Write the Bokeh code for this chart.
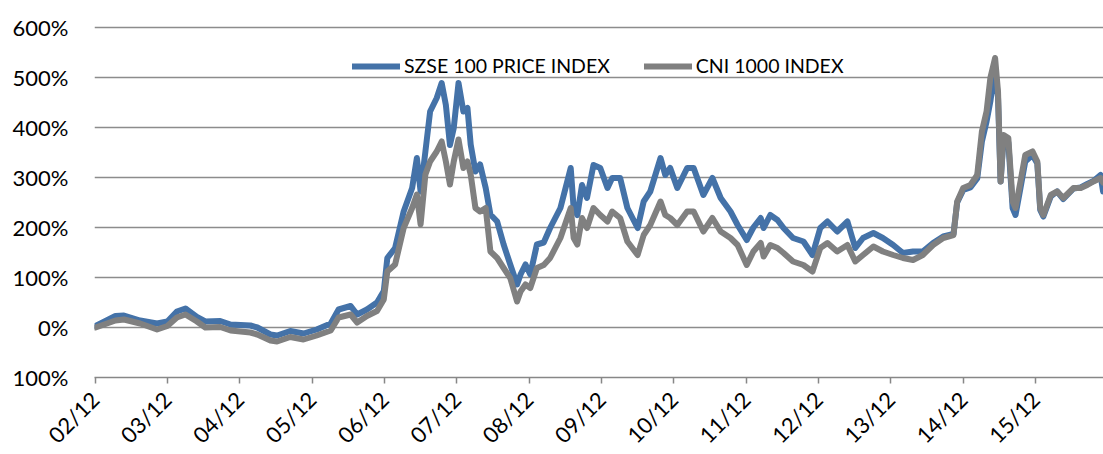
import pandas as pd
from math import pi
from bokeh.plotting import figure
from bokeh.models import Range1d, FixedTicker, Legend, LegendItem
from bokeh.embed import file_html
from bokeh.resources import INLINE

dates = [
    "2002-12-04", "2003-03-13", "2003-04-25", "2003-07-16", "2003-10-10", "2003-12-01",
    "2004-01-19", "2004-03-01", "2004-04-28", "2004-06-10", "2004-08-25", "2004-10-16",
    "2005-01-25", "2005-02-27", "2005-05-04", "2005-06-07", "2005-08-13", "2005-10-19",
    "2005-12-25", "2006-03-04", "2006-04-13", "2006-06-13", "2006-07-16", "2006-09-04",
    "2006-10-25", "2006-11-28", "2006-12-16", "2007-01-25", "2007-03-07", "2007-04-19",
    "2007-05-13", "2007-06-01", "2007-06-25", "2007-07-19", "2007-08-22", "2007-09-16",
    "2007-10-07", "2007-10-28", "2007-11-16", "2007-12-10", "2008-01-04", "2008-01-25",
    "2008-02-10", "2008-03-04", "2008-03-28", "2008-04-25", "2008-05-19", "2008-06-22",
    "2008-07-25", "2008-08-28", "2008-10-01", "2008-10-19", "2008-11-13", "2008-12-07",
    "2009-01-10", "2009-02-13", "2009-03-16", "2009-05-07", "2009-06-28", "2009-07-13",
    "2009-08-01", "2009-08-25", "2009-09-19", "2009-10-22", "2009-11-25", "2010-01-01",
    "2010-01-25", "2010-03-04", "2010-04-10", "2010-06-01", "2010-07-01", "2010-08-04",
    "2010-09-25", "2010-10-19", "2010-11-13", "2010-12-19", "2011-02-07", "2011-03-10",
    "2011-04-28", "2011-06-13", "2011-07-25", "2011-09-13", "2011-10-19", "2011-12-04",
    "2012-01-07", "2012-02-13", "2012-02-27", "2012-04-01", "2012-05-07", "2012-06-07",
    "2012-07-25", "2012-09-16", "2012-11-01", "2012-12-10", "2013-01-16", "2013-03-04",
    "2013-04-25", "2013-06-04", "2013-07-13", "2013-09-04", "2013-10-22", "2013-12-13",
    "2014-02-01", "2014-03-22", "2014-05-10", "2014-07-01", "2014-08-22", "2014-10-13",
    "2014-11-01", "2014-12-01", "2015-01-07", "2015-02-10", "2015-03-04", "2015-03-28",
    "2015-04-16", "2015-05-10", "2015-05-25", "2015-06-07", "2015-06-22", "2015-07-16",
    "2015-08-07", "2015-08-22", "2015-09-16", "2015-10-10", "2015-11-16", "2015-12-10",
    "2015-12-25", "2016-01-10", "2016-02-16", "2016-03-19", "2016-04-19", "2016-06-10",
    "2016-07-16", "2016-08-19", "2016-09-19", "2016-10-25", "2016-11-07",
]

szse100 = [
    3, 23, 24, 14, 8, 12,
    32, 38, 21, 12, 13, 6,
    4, 0, -14, -16, -7, -12,
    -4, 8, 36, 43, 26, 36,
    50, 73, 139, 159, 232, 279,
    339, 272, 352, 432, 459, 489,
    445, 365, 399, 489, 432, 439,
    366, 312, 326, 279, 226, 212,
    166, 126, 86, 106, 126, 106,
    166, 170, 199, 239, 319, 239,
    225, 285, 259, 325, 319, 279,
    299, 299, 239, 199, 252, 272,
    339, 305, 319, 279, 319, 319,
    265, 299, 259, 232, 205, 175,
    200, 219, 199, 225, 215, 199,
    179, 172, 145, 199, 212, 192,
    212, 159, 179, 189, 179, 165,
    149, 152, 152, 169, 182, 187,
    250, 275, 280, 298, 372, 412,
    452, 520, 460, 292, 380, 370,
    239, 225, 279, 332, 345, 328,
    235, 222, 262, 272, 257, 278,
    280, 287, 293, 305, 272,
]

cni1000 = [
    0, 14, 16, 8, -4, 3,
    20, 26, 12, 0, 1, -6,
    -10, -14, -26, -28, -19, -24,
    -16, -6, 20, 26, 10, 23,
    33, 56, 112, 126, 199, 239,
    266, 206, 306, 332, 352, 372,
    332, 286, 332, 376, 319, 332,
    306, 239, 232, 239, 152, 139,
    119, 99, 52, 72, 86, 79,
    119, 125, 139, 179, 239, 179,
    166, 219, 199, 239, 225, 212,
    232, 219, 172, 145, 185, 205,
    252, 225, 219, 205, 232, 232,
    192, 219, 192, 179, 165, 125,
    152, 169, 142, 165, 159, 149,
    132, 125, 112, 159, 169, 152,
    165, 132, 145, 162, 152, 145,
    139, 135, 145, 165, 179, 185,
    252, 279, 285, 305, 392, 432,
    499, 539, 472, 292, 385, 379,
    252, 239, 292, 345, 352, 332,
    239, 225, 265, 272, 259, 279,
    279, 285, 292, 299, 290,
]

x_tick_labels = ["02/12", "03/12", "04/12", "05/12", "06/12", "07/12", "08/12",
                 "09/12", "10/12", "11/12", "12/12", "13/12", "14/12", "15/12"]
y_ticks = [-100, 0, 100, 200, 300, 400, 500, 600]
y_tick_labels = ["100%", "0%", "100%", "200%", "300%", "400%", "500%", "600%"]
series_names = ["SZSE 100 PRICE INDEX", "CNI 1000 INDEX"]

d = pd.to_datetime(pd.Series(dates))
# years elapsed since December 2002
xs = ((d.dt.year - 2002) * 12 + d.dt.month - 12 + (d.dt.day - 1) / d.dt.days_in_month) / 12.0
xs = list(xs)

FONT = "Lato"

p = figure(frame_width=1009, frame_height=352, output_backend="svg", toolbar_location=None,
           x_range=Range1d(-0.007, 13.939), y_range=Range1d(-100, 604),
           min_border_left=94, min_border_right=0, min_border_top=25, min_border_bottom=77)
p.outline_line_color = None
p.background_fill_color = "white"
p.border_fill_color = "white"

r1 = p.line(xs, szse100, line_color="#4472A8", line_width=6, line_join="round", line_cap="round")
r2 = p.line(xs, cni1000, line_color="#808080", line_width=6, line_join="round", line_cap="round")

p.xgrid.visible = False
p.ygrid.ticker = FixedTicker(ticks=y_ticks[1:])
p.ygrid.grid_line_color = "#8c8c8c"
p.ygrid.grid_line_width = 1.5

xa = p.xaxis[0]
xa.ticker = FixedTicker(ticks=list(range(len(x_tick_labels))))
xa.major_label_overrides = {i: lbl for i, lbl in enumerate(x_tick_labels)}
xa.major_label_orientation = pi / 4
xa.axis_line_color = "#878787"
xa.axis_line_width = 1.5
xa.major_tick_line_color = "#878787"
xa.major_tick_line_width = 1.5
xa.major_tick_in = 0
xa.major_tick_out = 6
xa.minor_tick_line_color = None
xa.major_label_text_font = FONT
xa.major_label_text_font_size = "22px"
xa.major_label_text_color = "#000000"
xa.major_label_standoff = 12

ya = p.yaxis[0]
ya.ticker = FixedTicker(ticks=y_ticks)
ya.major_label_overrides = {t: lbl for t, lbl in zip(y_ticks, y_tick_labels)}
ya.axis_line_color = None
ya.major_tick_line_color = None
ya.minor_tick_line_color = None
ya.major_tick_in = 0
ya.major_tick_out = 0
ya.major_label_standoff = 26
ya.major_label_text_font = FONT
ya.major_label_text_font_size = "22px"
ya.major_label_text_color = "#000000"

legend = Legend(items=[LegendItem(label=series_names[0], renderers=[r1]),
                       LegendItem(label=series_names[1], renderers=[r2])],
                orientation="horizontal", location=(258, 300),
                border_line_color=None, background_fill_alpha=0,
                padding=0, margin=0, spacing=34, glyph_width=48, glyph_height=20,
                label_standoff=4, label_text_font=FONT, label_text_font_size="19.5px",
                label_text_color="#000000")
p.add_layout(legend)

open("out.html", "w").write(file_html(p, INLINE))
